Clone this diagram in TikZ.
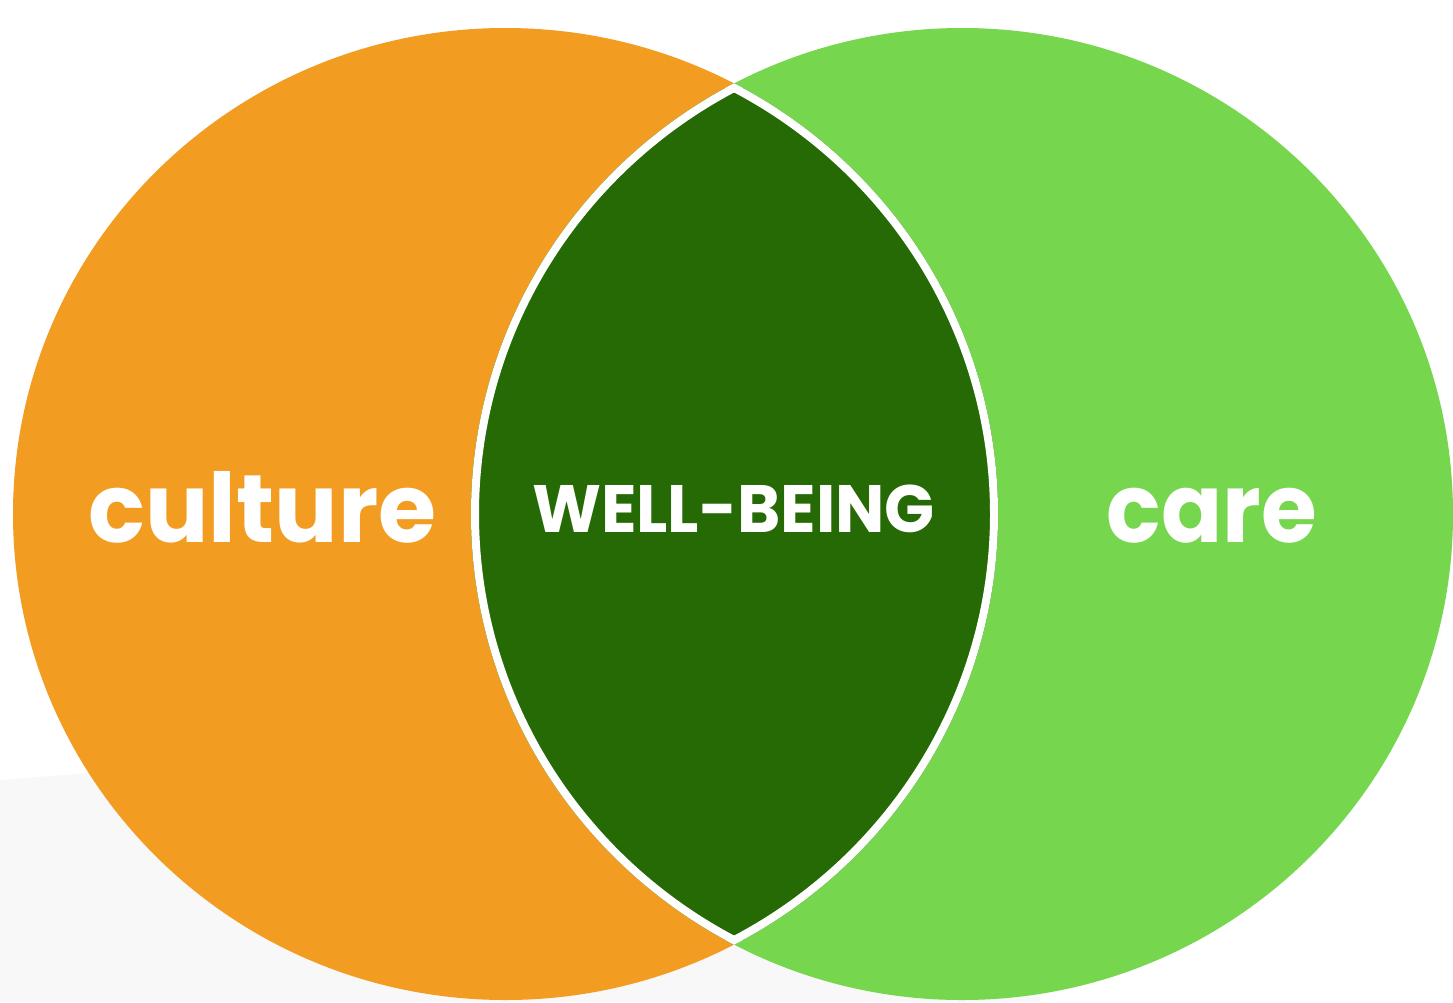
\documentclass[tikz,border=0pt]{standalone}
\usepackage{fontspec}
\setmainfont{Poppins}[UprightFont=* Bold, BoldFont=* Bold]
\definecolor{cultureorange}{HTML}{F29D22}
\definecolor{caregreen}{HTML}{76D64D}
\definecolor{wellgreen}{HTML}{256A05}
\definecolor{bggrey}{HTML}{F8F8F8}
\tikzset{
  lbl/.style={text=white, anchor=base, inner sep=0pt},
  bigword/.style={lbl, font=\fontsize{96}{100}\selectfont},
  midword/.style={lbl, font=\fontsize{67}{72}\selectfont}
}
\begin{document}
\begin{tikzpicture}[x=1pt,y=-1pt]
\useasboundingbox (0,0) rectangle (1453,1002);
\fill[white] (0,0) rectangle (1453,1002);
% light grey background band
\fill[bggrey] (0,780) -- (1040,700) -- (1040,1002) -- (0,1002) -- cycle;
% circles
\coordinate (lc) at (505.5,514);
\coordinate (rc) at (962,514);
\fill[cultureorange] (lc) ellipse [x radius=492.5, y radius=486];
\fill[caregreen] (rc) ellipse [x radius=491, y radius=486];
% lens
\begin{scope}
  \clip (lc) ellipse [x radius=492.5, y radius=486];
  \clip (rc) ellipse [x radius=491, y radius=486];
  \fill[wellgreen] (0,0) rectangle (1453,1002);
  \draw[white, line width=16] (lc) ellipse [x radius=492.5, y radius=486];
  \draw[white, line width=16] (rc) ellipse [x radius=491, y radius=486];
\end{scope}
% labels
\node[bigword, xscale=0.98] (culture) at (262.5,542) {culture};
\node[midword, xscale=0.98] (wellbeing) at (733.5,532) {WELL-BEING};
\node[bigword, xscale=0.94] (care) at (1212,542) {care};
\end{tikzpicture}
\end{document}
